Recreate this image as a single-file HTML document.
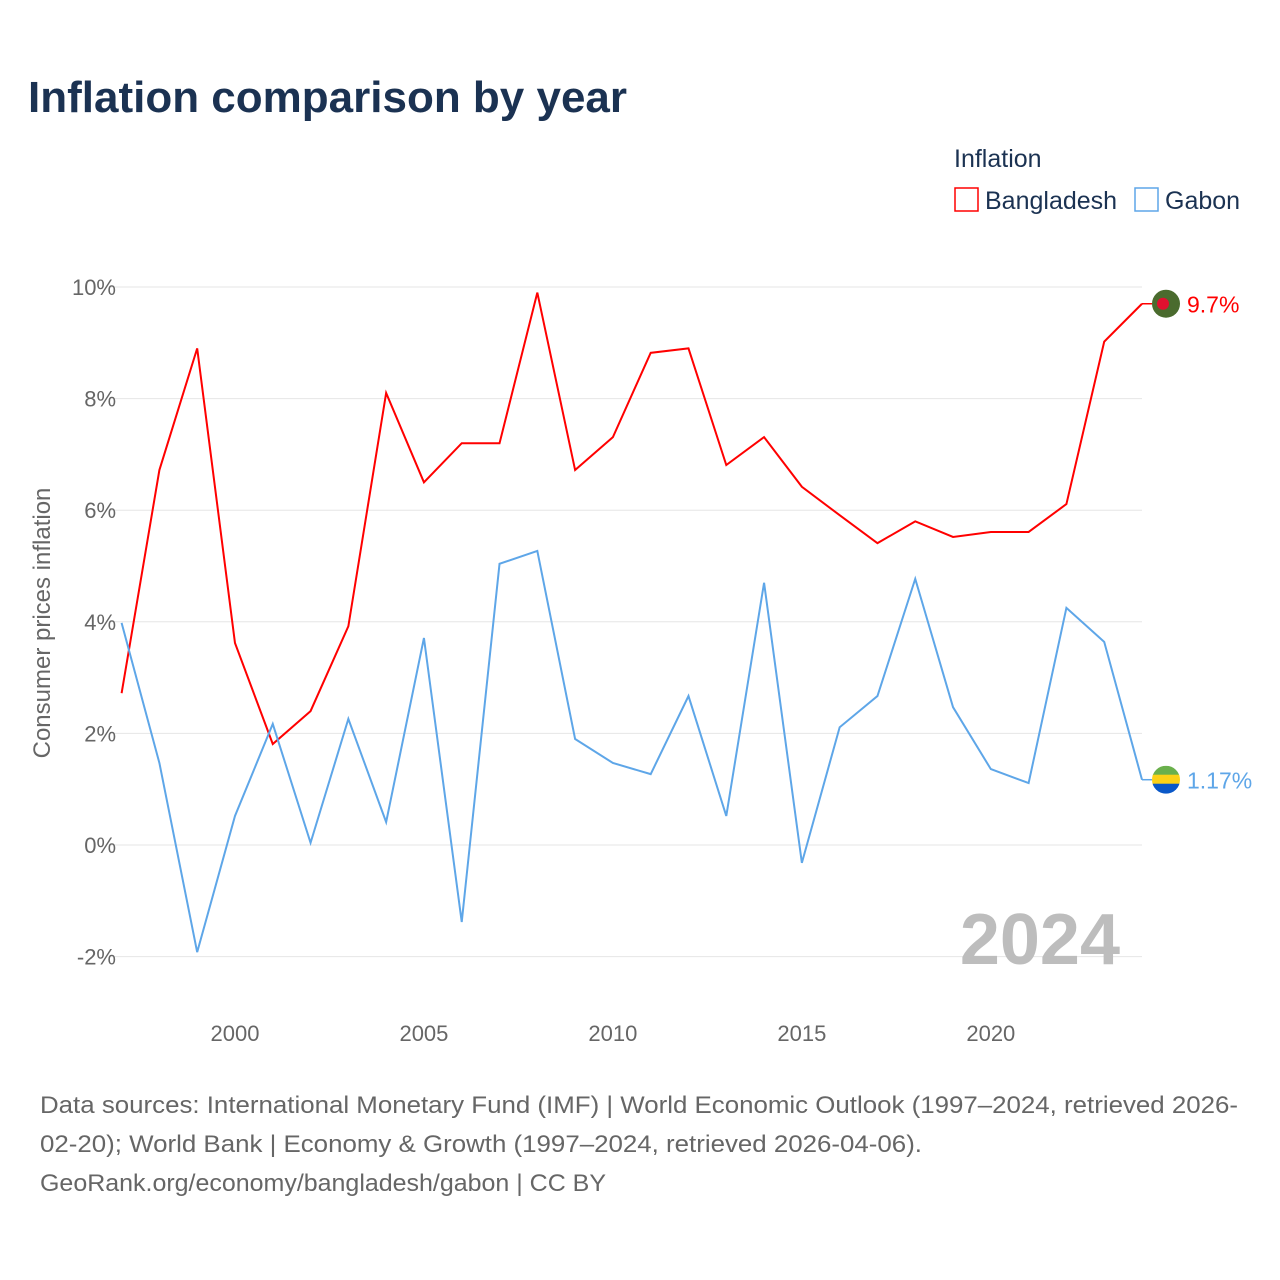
<!DOCTYPE html>
<html><head><meta charset="utf-8"><style>
body{margin:0;background:#fff;font-family:"Liberation Sans",sans-serif;}
#wrap{position:relative;width:1280px;height:1280px;overflow:hidden;}
</style></head><body>
<div id="wrap">
<svg id="chart" width="1280" height="1280">
<text x="28" y="112" font-size="44" font-weight="bold" fill="#1b3252">Inflation comparison by year</text>
<text x="954" y="167" font-size="25" fill="#1b3252">Inflation</text>
<g><rect x="955" y="188" width="23" height="23" fill="#fff" stroke="#ff0000" stroke-width="1.5"/><text x="985" y="209" font-size="25" fill="#1b3252">Bangladesh</text></g>
<g><rect x="1135" y="188" width="23" height="23" fill="#fff" stroke="#5ea6e8" stroke-width="1.5"/><text x="1165" y="209" font-size="25" fill="#1b3252">Gabon</text></g>
<text transform="translate(50,623) rotate(-90)" text-anchor="middle" font-size="24" fill="#666">Consumer prices inflation</text>
<g id="grid"></g><g id="yt"></g><g id="xt"></g>
<text x="1120" y="964" text-anchor="end" font-size="72" font-weight="bold" fill="#bdbdbd">2024</text>
<g id="series"></g>
<text font-size="24" fill="#666"><tspan x="40" y="1113" textLength="1198" lengthAdjust="spacingAndGlyphs">Data sources: International Monetary Fund (IMF) | World Economic Outlook (1997–2024, retrieved 2026-</tspan><tspan x="40" y="1152" textLength="882" lengthAdjust="spacingAndGlyphs">02-20); World Bank | Economy &amp; Growth (1997–2024, retrieved 2026-04-06).</tspan><tspan x="40" y="1191" textLength="566" lengthAdjust="spacingAndGlyphs">GeoRank.org/economy/bangladesh/gabon | CC BY</tspan></text>
</svg></div>
<script>
const years=[1997,1998,1999,2000,2001,2002,2003,2004,2005,2006,2007,2008,2009,2010,2011,2012,2013,2014,2015,2016,2017,2018,2019,2020,2021,2022,2023,2024];
const bangladesh=[2.72,6.72,8.9,3.62,1.81,2.4,3.92,8.1,6.5,7.2,7.2,9.9,6.72,7.31,8.82,8.9,6.81,7.31,6.42,5.91,5.41,5.8,5.52,5.61,5.61,6.11,9.02,9.7];
const gabon=[3.98,1.47,-1.92,0.52,2.17,0.04,2.26,0.41,3.71,-1.38,5.04,5.27,1.9,1.47,1.27,2.67,0.52,4.7,-0.32,2.11,2.67,4.77,2.47,1.36,1.11,4.25,3.64,1.17];
const yTicks=[-2,0,2,4,6,8,10];
const yTickLabels=["-2%","0%","2%","4%","6%","8%","10%"];
const xTicks=[2000,2005,2010,2015,2020];
const NS="http://www.w3.org/2000/svg";
const X=v=>121.6+(v-1997)*(1142-121.6)/27;
const Y=v=>845-v*55.8;
function mk(t,a,p){const e=document.createElementNS(NS,t);for(const k in a)e.setAttribute(k,a[k]);p.appendChild(e);return e;}
const g=document.getElementById('grid'),yt=document.getElementById('yt'),xt=document.getElementById('xt'),s=document.getElementById('series');
yTicks.forEach((v,i)=>{const l=mk('line',{x1:110,x2:1142,y1:Y(v),y2:Y(v),stroke:'#e6e6e6'},g);


const t=mk('text',{x:116,y:Y(v)+8,'text-anchor':'end','font-size':22,fill:'#666'},yt);t.textContent=yTickLabels[i];

});
xTicks.forEach(v=>{const t=mk('text',{x:X(v),y:1041,'text-anchor':'middle','font-size':22,fill:'#666'},xt);t.textContent=v;

});
function series(d,c,name){const p=mk('polyline',{points:d.map((v,i)=>X(years[i])+','+Y(v)).join(' '),fill:'none',stroke:c,'stroke-width':2},s);


const last=d[d.length-1],ly=Y(last);
mk('line',{x1:1142,x2:1152,y1:ly,y2:ly,stroke:c,'stroke-width':1.5},s);
return ly;}
const by=series(bangladesh,'#ff0000','bangladesh');
const gy=series(gabon,'#5ea6e8','gabon');
let f=mk('g',{},s);
mk('circle',{cx:1166,cy:by,r:14,fill:'#4a6b2e'},f);mk('circle',{cx:1163,cy:by,r:6,fill:'#e0102f'},f);
let t=mk('text',{x:1187,y:by+9,'font-size':23,fill:'#ff0000'},s);t.textContent=bangladesh[bangladesh.length-1]+'%';

f=mk('g',{},s);
mk('clipPath',{id:'gc'},f);mk('circle',{cx:1166,cy:gy,r:14},document.getElementById('gc'));
mk('rect',{x:1152,y:gy-14,width:28,height:10,fill:'#6ab04c','clip-path':'url(#gc)'},f);
mk('rect',{x:1152,y:gy-5,width:28,height:10,fill:'#fcd116','clip-path':'url(#gc)'},f);
mk('rect',{x:1152,y:gy+4,width:28,height:10,fill:'#0a58c8','clip-path':'url(#gc)'},f);
t=mk('text',{x:1187,y:gy+9,'font-size':23,fill:'#5ea6e8'},s);t.textContent=gabon[gabon.length-1]+'%';

</script>
</body></html>
